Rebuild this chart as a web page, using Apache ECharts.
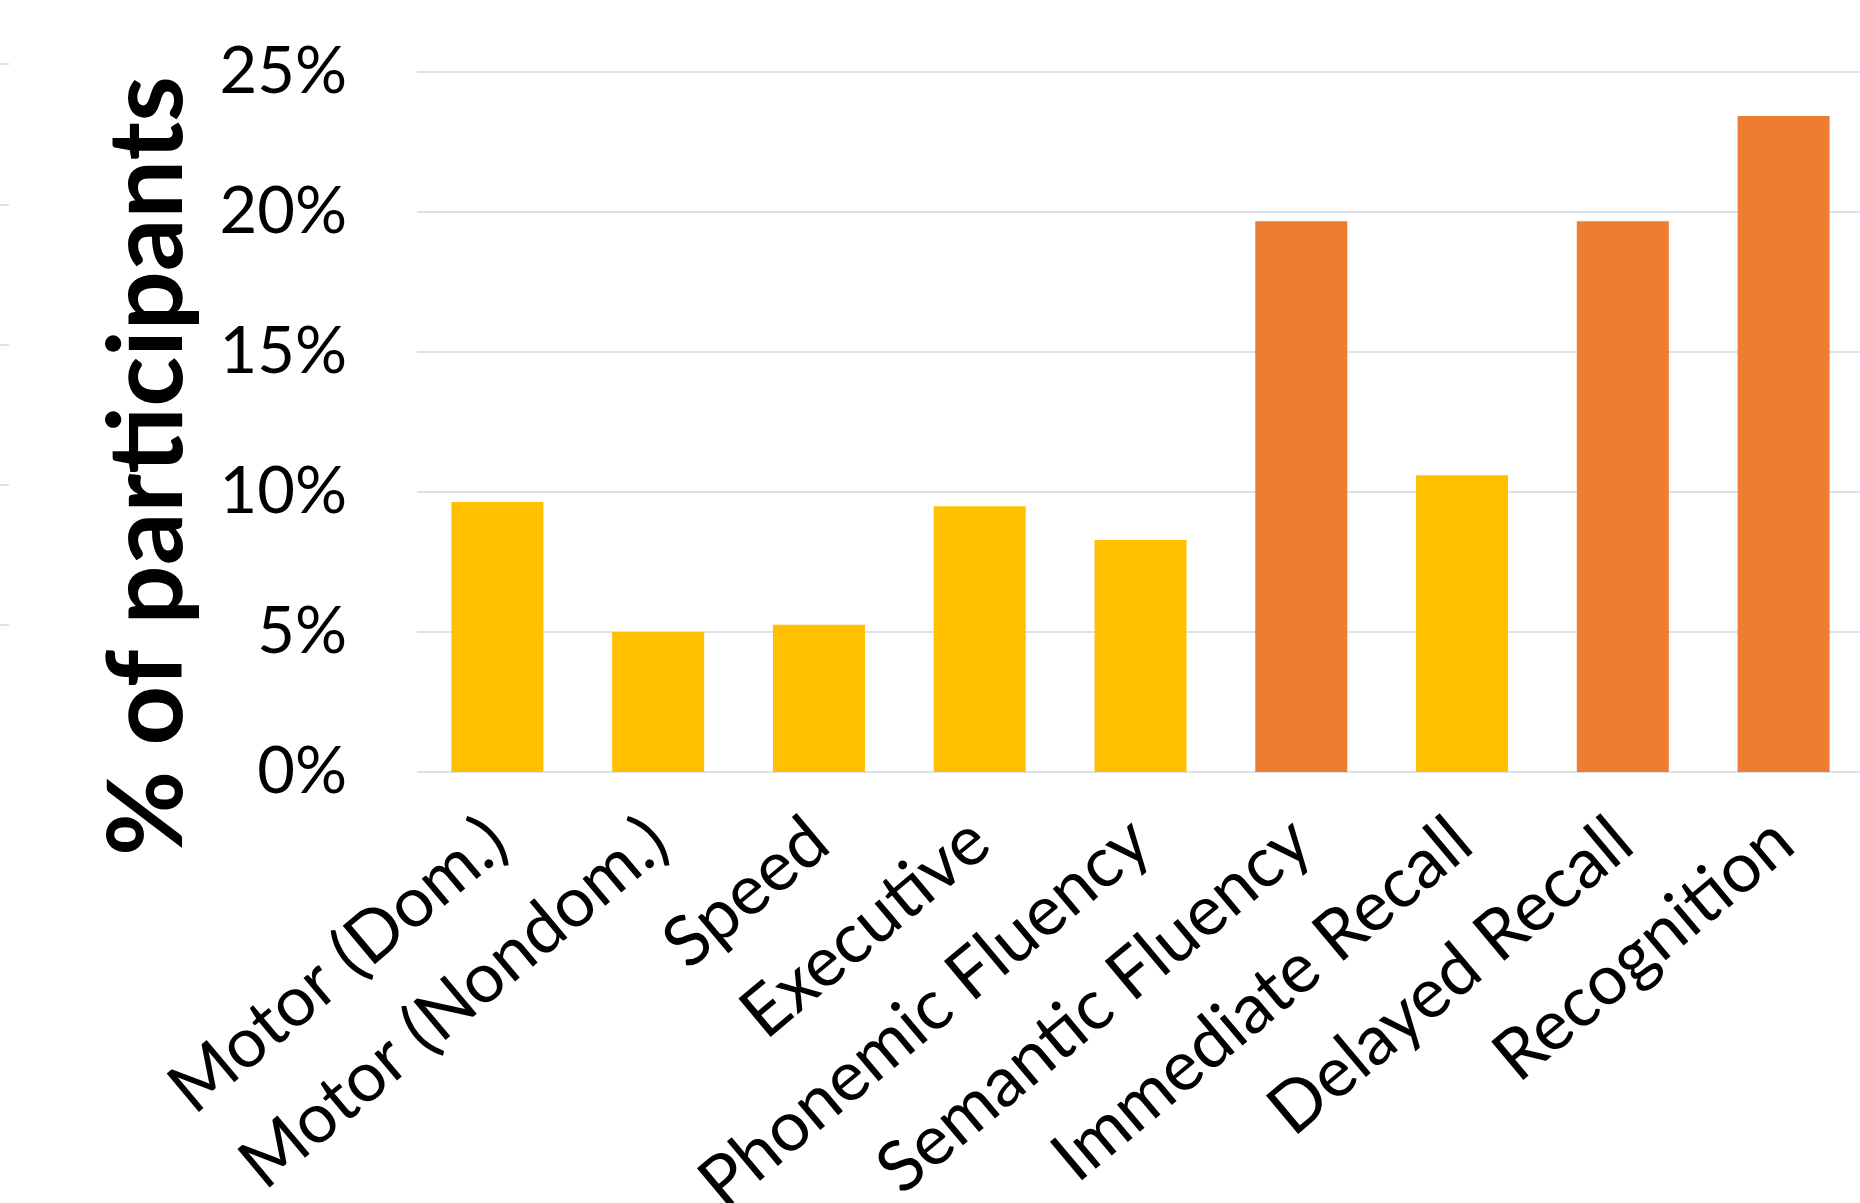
<!DOCTYPE html>
<html>
<head>
<meta charset="utf-8">
<script src="https://cdn.jsdelivr.net/npm/echarts@6/dist/echarts.min.js"></script>
<style>
  html, body { margin: 0; padding: 0; background: #fff; }
  #chart { width: 1860px; height: 1203px; }
</style>
</head>
<body>
<div id="chart"></div>
<script>
  // data
  const categories = ['Motor (Dom.)', 'Motor (Nondom.)', 'Speed', 'Executive', 'Phonemic Fluency',
    'Semantic Fluency', 'Immediate Recall', 'Delayed Recall', 'Recognition'];
  const percentValues = [9.64, 5.0, 5.26, 9.49, 8.29, 19.67, 10.6, 19.67, 23.43];
  const highlighted = ['Semantic Fluency', 'Delayed Recall', 'Recognition'];
  const yTicks = [0, 5, 10, 15, 20, 25];
  const strayTicks = [5, 10, 15, 20, 25]; // faint gridline stubs at the far left edge
  const yAxisTitle = '% of participants';

  const FONT = 'Lato';
  const GRID_COLOR = '#DDE2EA';
  const YELLOW = '#FFC000';
  const ORANGE = '#ED7D31';

  const myChart = echarts.init(document.getElementById('chart'), null, { renderer: 'canvas' });

  const getOption = () => {
    return {
      backgroundColor: '#fff',
      animation: false,
      grid: [
        { left: 417, top: 72, width: 1447, height: 700, containLabel: false, outerBoundsMode: 'none' },
        { left: 0, top: 64, width: 9, height: 561, containLabel: false, outerBoundsMode: 'none' }
      ],
      xAxis: [
        {
          type: 'category',
          gridIndex: 0,
          data: categories,
          axisLine: { show: false },
          axisTick: { show: false },
          axisLabel: {
            interval: 0,
            rotate: 40,
            margin: 60,
            color: '#000',
            fontFamily: FONT,
            fontSize: 70
          }
        },
        { type: 'value', gridIndex: 1, min: 0, max: 1, show: false }
      ],
      yAxis: [
        {
          type: 'value',
          gridIndex: 0,
          min: yTicks[0],
          max: yTicks[yTicks.length - 1],
          interval: yTicks[1] - yTicks[0],
          axisLine: { show: false },
          axisTick: { show: false },
          splitLine: { lineStyle: { color: GRID_COLOR, width: 2 } },
          axisLabel: {
            margin: 70,
            color: '#000',
            fontFamily: FONT,
            fontSize: 65,
            formatter: (v) => v + '%'
          },
          name: yAxisTitle,
          nameLocation: 'middle',
          nameRotate: 90,
          nameGap: 217,
          nameTextStyle: {
            color: '#000',
            fontFamily: FONT,
            fontWeight: 'bold',
            fontSize: 104,
            padding: [0, 88, 0, 0]
          }
        },
        {
          type: 'value',
          gridIndex: 1,
          min: strayTicks[0],
          max: strayTicks[strayTicks.length - 1],
          interval: strayTicks[1] - strayTicks[0],
          axisLine: { show: false },
          axisTick: { show: false },
          axisLabel: { show: false },
          splitLine: { lineStyle: { color: GRID_COLOR, width: 2 } }
        }
      ],
      series: [
        {
          type: 'bar',
          xAxisIndex: 0,
          yAxisIndex: 0,
          data: percentValues,
          barWidth: 92,
          itemStyle: {
            color: (p) => (highlighted.indexOf(categories[p.dataIndex]) >= 0 ? ORANGE : YELLOW)
          }
        }
      ]
    };
  };

  myChart.setOption(getOption());
</script>
</body>
</html>
